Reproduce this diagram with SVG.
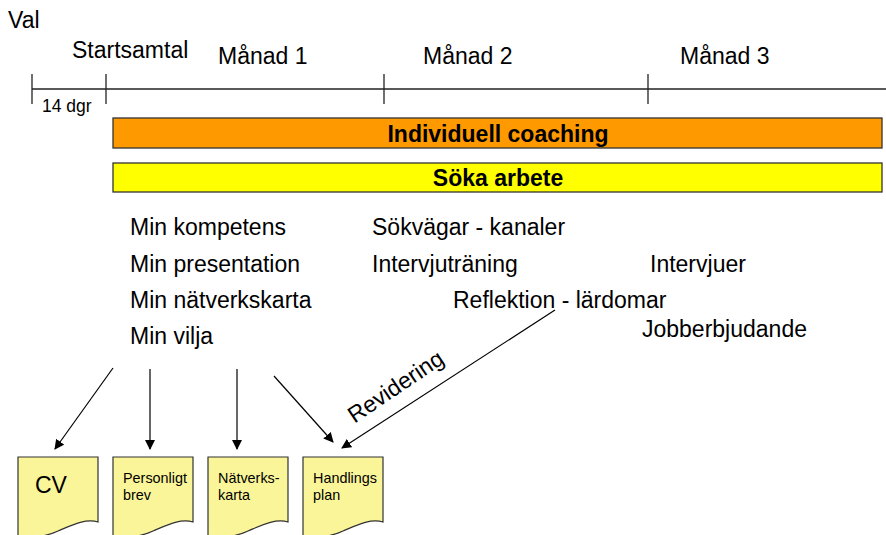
<svg xmlns="http://www.w3.org/2000/svg" width="886" height="535" viewBox="0 0 886 535">
<defs>
<style>
text{font-family:"Liberation Sans",Arial,sans-serif;fill:#000}
.t{font-size:23px}
.s{font-size:17.5px}
.b{font-size:23px;font-weight:bold;text-anchor:middle}
.d{font-size:14.4px}
.ax{stroke:#222;stroke-width:1.3;fill:none}
.bar{stroke:#333;stroke-width:1.3}
.doc{fill:#FAF599;stroke:#333;stroke-width:1.2}
.arr{stroke:#000;stroke-width:1.2;fill:none;marker-end:url(#ah)}
</style>
<marker id="ah" viewBox="0 0 10 10" refX="9" refY="5" markerWidth="10" markerHeight="10" markerUnits="userSpaceOnUse" orient="auto">
<path d="M0,0 L10,5 L0,10 Z" fill="#000"/>
</marker>
</defs>
<rect width="886" height="535" fill="#fff"/>
<g id="timeline">
<line class="ax" x1="32" y1="89" x2="886" y2="89"/>
<line class="ax" x1="32" y1="74" x2="32" y2="104"/>
<line class="ax" x1="106" y1="74" x2="106" y2="104"/>
<line class="ax" x1="384" y1="74" x2="384" y2="104"/>
<line class="ax" x1="648" y1="74" x2="648" y2="104"/>
<text class="t" x="8" y="28">Val</text>
<text class="t" x="72" y="58">Startsamtal</text>
<text class="t" x="218" y="64">Månad 1</text>
<text class="t" x="423" y="64">Månad 2</text>
<text class="t" x="680" y="64">Månad 3</text>
<text class="s" x="42" y="112">14 dgr</text>
</g>
<g id="coaching">
<rect class="bar" x="113" y="118" width="769" height="30" fill="#FF9900"/>
<text class="b" x="498" y="142">Individuell coaching</text>
</g>
<g id="soka">
<rect class="bar" x="113" y="163" width="769" height="29" fill="#FFFF00"/>
<text class="b" x="498" y="186">Söka arbete</text>
</g>
<g id="items">
<text class="t" x="130" y="235">Min kompetens</text>
<text class="t" x="130" y="272">Min presentation</text>
<text class="t" x="130" y="308">Min nätverkskarta</text>
<text class="t" x="130" y="344">Min vilja</text>
<text class="t" x="372" y="235">Sökvägar - kanaler</text>
<text class="t" x="372" y="272">Intervjuträning</text>
<text class="t" x="650" y="272">Intervjuer</text>
<text class="t" x="453" y="308">Reflektion - lärdomar</text>
<text class="t" x="642" y="337">Jobberbjudande</text>
</g>
<g id="connectors">
<line class="arr" x1="113" y1="368" x2="55" y2="449"/>
<line class="arr" x1="150" y1="369" x2="150" y2="449"/>
<line class="arr" x1="237" y1="369" x2="237" y2="449"/>
<line class="arr" x1="274" y1="376" x2="333" y2="442"/>
<line class="arr" x1="555" y1="310" x2="342" y2="448"/>
<text class="t" transform="translate(400,393) rotate(-34)" text-anchor="middle">Revidering</text>
</g>
<g id="cv">
<path class="doc" d="M18,457 H98 V522 C85,518 70,526 58,531 C45,537 30,538 18,536 Z"/>
<text x="35" y="493" style="font-size:23px">CV</text>
</g>
<g id="brev">
<path class="doc" d="M113,457 H193 V522 C180,518 165,526 153,531 C140,537 125,538 113,536 Z"/>
<text class="d" x="123" y="483">Personligt</text>
<text class="d" x="123" y="500">brev</text>
</g>
<g id="natverkskarta">
<path class="doc" d="M208,457 H288 V522 C275,518 260,526 248,531 C235,537 220,538 208,536 Z"/>
<text class="d" x="218" y="483">Nätverks-</text>
<text class="d" x="218" y="500">karta</text>
</g>
<g id="handlingsplan">
<path class="doc" d="M303,457 H383 V522 C370,518 355,526 343,531 C330,537 315,538 303,536 Z"/>
<text class="d" x="313" y="483">Handlings</text>
<text class="d" x="313" y="500">plan</text>
</g>
</svg>
